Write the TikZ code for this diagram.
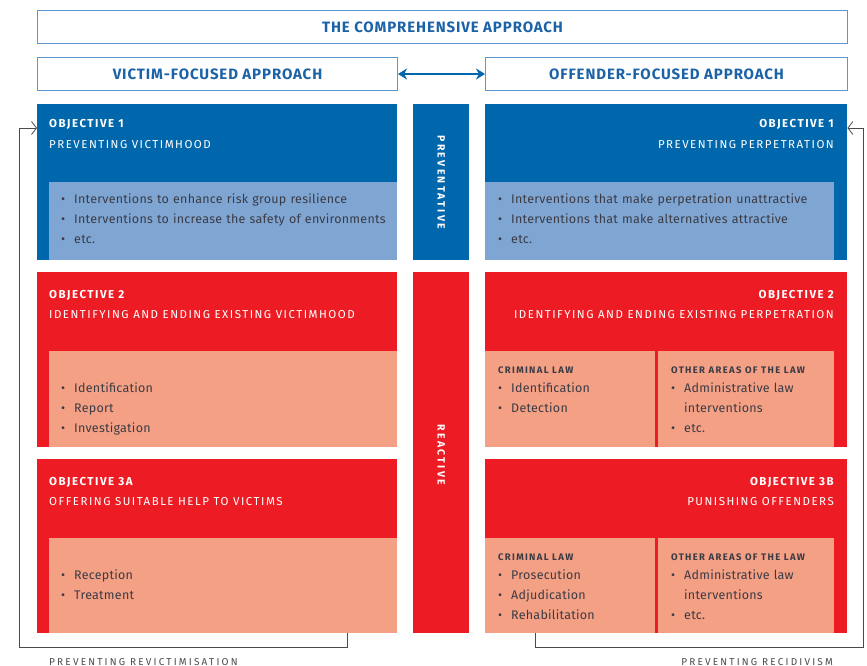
\documentclass[tikz,border=0pt]{standalone}
\usepackage{fontspec}
\setmainfont{Fira Sans}
\newfontfamily\spacedfont[LetterSpace=13]{Fira Sans}
\newfontfamily\widefont[LetterSpace=22]{Fira Sans}
\newfontfamily\notefont[LetterSpace=22]{Fira Sans}
\newfontfamily\headfont[LetterSpace=6]{Fira Sans}
\newfontfamily\lawfont[LetterSpace=14]{Fira Sans}
\newfontfamily\bodyfont[LetterSpace=2]{Fira Sans}
\usepackage{tikz}
\usetikzlibrary{positioning,calc,arrows.meta}

\definecolor{DarkBlue}{HTML}{0067AC}
\definecolor{PaleBlue}{HTML}{7FA6D3}
\definecolor{FrameBlue}{HTML}{5C98CF}
\definecolor{TextBlue}{HTML}{1C62A6}
\definecolor{DeepRed}{HTML}{ED1C24}
\definecolor{Salmon}{HTML}{F4A084}
\definecolor{BodyText}{HTML}{3B3B45}
\definecolor{LineGray}{HTML}{4A4A4A}

\newcommand{\bul}{\makebox[13pt][l]{\textbullet}}
\newcommand{\ind}{\hspace*{13pt}}

\tikzset{
  headbox/.style={draw=FrameBlue,line width=1pt,inner sep=0,anchor=north west,
    text=TextBlue,font=\headfont\bfseries\fontsize{15}{17}\selectfont},
  block/.style={inner sep=0,anchor=north west},
  objtitle/.style={inner sep=0,text=white,font=\spacedfont\bfseries\fontsize{11.5}{13}\selectfont},
  objsub/.style={inner sep=0,text=white,font=\spacedfont\fontsize{11.5}{13}\selectfont},
  items/.style={inner sep=0,anchor=base west,text=BodyText,text width=160pt,align=left,
    font=\bodyfont\fontsize{12.5}{20}\selectfont},
  lawhead/.style={inner sep=0,anchor=base west,text=BodyText,font=\lawfont\bfseries\fontsize{9.5}{12}\selectfont},
  sidelabel/.style={inner sep=0,text=white,rotate=-90,font=\widefont\bfseries\fontsize{10.5}{12}\selectfont},
  feedback/.style={draw=LineGray,line width=0.8pt,-{Straight Barb[length=5pt,width=13pt]}},
  footnote/.style={inner sep=0,text=LineGray,font=\notefont\fontsize{10}{12}\selectfont},
}

\begin{document}
\begin{tikzpicture}[x=1pt,y=-1pt]
\useasboundingbox (0,0) rectangle (867,666);

% headings
\node[headbox,minimum width=810pt,minimum height=33pt] (comp) at (37,10) {THE COMPREHENSIVE APPROACH};
\node[headbox,minimum width=360pt,minimum height=33pt] (victim) at (37,57) {VICTIM-FOCUSED APPROACH};
\node[headbox,minimum width=362pt,minimum height=33pt] (offender) at (485,57) {OFFENDER-FOCUSED APPROACH};
\draw[{Stealth[length=9pt,width=11pt]}-{Stealth[length=9pt,width=11pt]},DarkBlue,line width=2pt] (victim) -- (offender);

% middle column
\node[block,fill=DarkBlue,minimum width=56pt,minimum height=156pt] (prev) at (413,104) {};
\node[block,fill=DeepRed,minimum width=56pt,minimum height=361pt] (react) at (413,272) {};
\node[sidelabel] at (prev.center) {PREVENTATIVE};
\node[sidelabel] at ($(react.center)+(0,2)$) {REACTIVE};

% victim side
\node[block,fill=DarkBlue,minimum width=360pt,minimum height=156pt] (obj1v) at (37,104) {};
\node[block,fill=PaleBlue,minimum width=348pt,minimum height=78pt] (help1v) at (49,182) {};
\node[objtitle,anchor=base west] at (49,128) {OBJECTIVE 1};
\node[objsub,anchor=base west] at (49,148) {PREVENTING VICTIMHOOD};
\node[items,text width=330pt] at (61,203) {\bul Interventions to enhance risk group resilience\\
  \bul Interventions to increase the safety of environments\\ \bul etc.};

\node[block,fill=DeepRed,minimum width=360pt,minimum height=175pt] (obj2v) at (37,272) {};
\node[block,fill=Salmon,minimum width=348pt,minimum height=96pt] (help2v) at (49,351) {};
\node[objtitle,anchor=base west] at (49,298) {OBJECTIVE 2};
\node[objsub,anchor=base west] at (49,318) {IDENTIFYING AND ENDING EXISTING VICTIMHOOD};
\node[items] at (61,392) {\bul Identification\\ \bul Report\\ \bul Investigation};

\node[block,fill=DeepRed,minimum width=360pt,minimum height=174pt] (obj3v) at (37,459) {};
\node[block,fill=Salmon,minimum width=348pt,minimum height=95pt] (help3v) at (49,538) {};
\node[objtitle,anchor=base west] at (49,485) {OBJECTIVE 3A};
\node[objsub,anchor=base west] at (49,505) {OFFERING SUITABLE HELP TO VICTIMS};
\node[items] at (61,579) {\bul Reception\\ \bul Treatment};

% offender side
\node[block,fill=DarkBlue,minimum width=362pt,minimum height=156pt] (obj1o) at (485,104) {};
\node[block,fill=PaleBlue,minimum width=349pt,minimum height=78pt] (help1o) at (485,182) {};
\node[objtitle,anchor=base east] at (834,128) {OBJECTIVE 1};
\node[objsub,anchor=base east] at (834,148) {PREVENTING PERPETRATION};
\node[items,text width=330pt] at (498,203) {\bul Interventions that make perpetration unattractive\\
  \bul Interventions that make alternatives attractive\\ \bul etc.};

\node[block,fill=DeepRed,minimum width=362pt,minimum height=175pt] (obj2o) at (485,272) {};
\node[block,fill=Salmon,minimum width=170pt,minimum height=96pt] (crim2o) at (485,351) {};
\node[block,fill=Salmon,minimum width=176pt,minimum height=96pt] (other2o) at (658,351) {};
\node[objtitle,anchor=base east] at (834,298) {OBJECTIVE 2};
\node[objsub,anchor=base east] at (834,318) {IDENTIFYING AND ENDING EXISTING PERPETRATION};
\node[lawhead] at (498,373) {CRIMINAL LAW};
\node[items] at (498,392) {\bul Identification\\ \bul Detection};
\node[lawhead] at (671,373) {OTHER AREAS OF THE LAW};
\node[items] at (671,392) {\bul Administrative law\\ \ind interventions\\ \bul etc.};

\node[block,fill=DeepRed,minimum width=362pt,minimum height=174pt] (obj3o) at (485,459) {};
\node[block,fill=Salmon,minimum width=170pt,minimum height=95pt] (crim3o) at (485,538) {};
\node[block,fill=Salmon,minimum width=176pt,minimum height=95pt] (other3o) at (658,538) {};
\node[objtitle,anchor=base east] at (834,485) {OBJECTIVE 3B};
\node[objsub,anchor=base east] at (834,505) {PUNISHING OFFENDERS};
\node[lawhead] at (498,560) {CRIMINAL LAW};
\node[items] at (498,579) {\bul Prosecution\\ \bul Adjudication\\ \bul Rehabilitation};
\node[lawhead] at (671,560) {OTHER AREAS OF THE LAW};
\node[items] at (671,579) {\bul Administrative law\\ \ind interventions\\ \bul etc.};

% feedback loops
\coordinate (revtail) at ($(help3v.south west)+(298,0)$);
\coordinate (revhead) at (obj1v.west |- 0,128);
\draw[feedback] (revtail) -- ++(0,14) -| (19,128) -- (revhead);
\coordinate (rectail) at ($(crim3o.south west)+(50,0)$);
\coordinate (rechead) at (obj1o.east |- 0,128);
\draw[feedback] (rectail) -- ++(0,14) -| (863,128) -- (rechead);

\node[footnote,anchor=base west] (revlabel) at (49,665) {PREVENTING REVICTIMISATION};
\node[footnote,anchor=base east] (reclabel) at (833,665) {PREVENTING RECIDIVISM};
\end{tikzpicture}
\end{document}
